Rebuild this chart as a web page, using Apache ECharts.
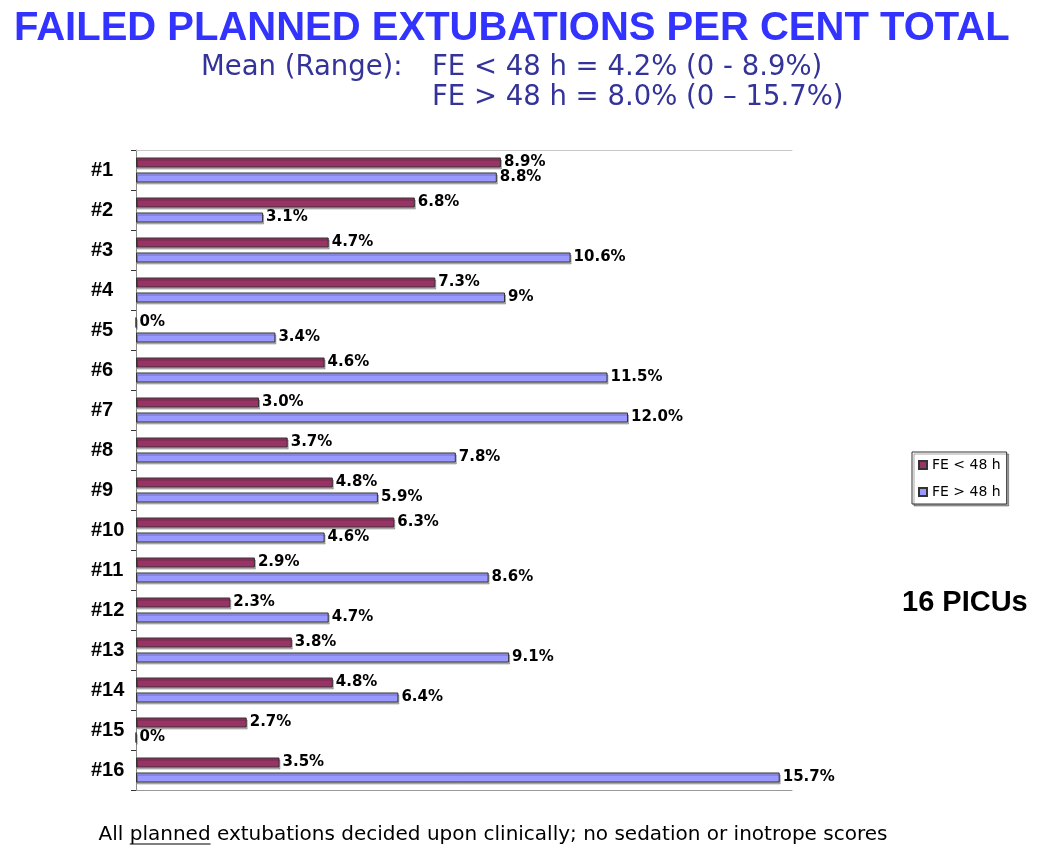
<!DOCTYPE html>
<html>
<head>
<meta charset="utf-8">
<script src="https://cdn.jsdelivr.net/npm/echarts@6/dist/echarts.min.js"></script>
<style>
html,body{margin:0;padding:0;background:#fff;}
#chart{width:1050px;height:866px;}
</style>
</head>
<body>
<div id="chart"></div>
<script>
const categories = ['#1','#2','#3','#4','#5','#6','#7','#8','#9','#10','#11','#12','#13','#14','#15','#16'];
const seriesNames = ['FE < 48 h', 'FE > 48 h'];
const feLess48 = [8.9, 6.8, 4.7, 7.3, 0, 4.6, 3.0, 3.7, 4.8, 6.3, 2.9, 2.3, 3.8, 4.8, 2.7, 3.5];
const feMore48 = [8.8, 3.1, 10.6, 9, 3.4, 11.5, 12.0, 7.8, 5.9, 4.6, 8.6, 4.7, 9.1, 6.4, 0, 15.7];
const labelsLess48 = ['8.9%','6.8%','4.7%','7.3%','0%','4.6%','3.0%','3.7%','4.8%','6.3%','2.9%','2.3%','3.8%','4.8%','2.7%','3.5%'];
const labelsMore48 = ['8.8%','3.1%','10.6%','9%','3.4%','11.5%','12.0%','7.8%','5.9%','4.6%','8.6%','4.7%','9.1%','6.4%','0%','15.7%'];
const titleText = 'FAILED PLANNED EXTUBATIONS PER CENT TOTAL';
const subtitleLead = 'Mean (Range):';
const subtitleLine1 = 'FE < 48 h = 4.2% (0 - 8.9%)';
const subtitleLine2 = 'FE > 48 h = 8.0% (0 \u2013 15.7%)';
const sideNote = '16 PICUs';
const footPre = 'All ';
const footUnder = 'planned';
const footPost = ' extubations decided upon clinically; no sedation or inotrope scores';

const chart = echarts.init(document.getElementById('chart'));

const footFont = '20px "DejaVu Sans"';
const mctx = document.createElement('canvas').getContext('2d');
mctx.font = footFont;
const wPre = mctx.measureText(footPre).width;
const wUnder = mctx.measureText(footUnder).width;
const wAll = mctx.measureText(footPre + footUnder + footPost).width;
const footCenter = 493, footY = 836;
const footLeft = footCenter - wAll / 2;

function barSeries(name, data, labels, color) {
  return {
    name: name,
    type: 'bar',
    data: data,
    barWidth: 10,
    barGap: '50%',
    itemStyle: {
      color: color,
      borderColor: '#333333',
      borderWidth: 1,
      shadowColor: 'rgba(0,0,0,0.25)',
      shadowOffsetX: 1,
      shadowOffsetY: 2,
      shadowBlur: 0
    },
    label: {
      show: true,
      position: 'right',
      distance: 3,
      formatter: p => labels[p.dataIndex],
      fontFamily: 'DejaVu Sans',
      fontWeight: 'bold',
      fontSize: 15,
      color: '#000'
    }
  };
}

chart.setOption({
  animation: false,
  backgroundColor: '#fff',
  title: [
    { text: titleText, left: 14, top: 9, padding: 0,
      textStyle: { fontFamily: 'Liberation Sans', fontWeight: 'bold', fontSize: 40, color: '#3333ff' } },
    { text: subtitleLead, left: 201, top: 54, padding: 0,
      textStyle: { fontFamily: 'DejaVu Sans', fontWeight: 'normal', fontSize: 27.5, color: '#333399' } },
    { text: subtitleLine1, left: 432, top: 54, padding: 0,
      textStyle: { fontFamily: 'DejaVu Sans', fontWeight: 'normal', fontSize: 27.5, color: '#333399' } },
    { text: subtitleLine2, left: 432, top: 84, padding: 0,
      textStyle: { fontFamily: 'DejaVu Sans', fontWeight: 'normal', fontSize: 27.5, color: '#333399' } },
    { text: sideNote, left: 902, top: 588, padding: 0,
      textStyle: { fontFamily: 'Liberation Sans', fontWeight: 'bold', fontSize: 29, color: '#000' } }
  ],
  legend: {
    data: seriesNames,
    orient: 'vertical',
    left: 912,
    top: 452,
    padding: [6, 6, 5, 6],
    itemGap: 13,
    itemWidth: 8,
    itemHeight: 8,
    icon: 'rect',
    backgroundColor: '#fff',
    borderColor: '#333',
    borderWidth: 1,
    shadowColor: 'rgba(0,0,0,0.35)',
    shadowOffsetX: 2,
    shadowOffsetY: 2,
    shadowBlur: 0,
    textStyle: { fontFamily: 'DejaVu Sans', fontSize: 14, color: '#000' }
  },
  grid: { left: 136, right: 258, top: 150, bottom: 76, containLabel: false },
  xAxis: [
    { type: 'value', min: 0, max: 16, position: 'bottom',
      axisLine: { show: true, lineStyle: { color: '#999', width: 1 } },
      axisTick: { show: false }, axisLabel: { show: false }, splitLine: { show: false } },
    { type: 'value', min: 0, max: 16, position: 'top',
      axisLine: { show: true, lineStyle: { color: '#c8c8c8', width: 1 } },
      axisTick: { show: false }, axisLabel: { show: false }, splitLine: { show: false } }
  ],
  yAxis: {
    type: 'category',
    data: categories,
    inverse: true,
    axisLine: { show: true, lineStyle: { color: '#888', width: 1 } },
    axisTick: { show: true, length: 5, lineStyle: { color: '#333' } },
    axisLabel: { fontFamily: 'Liberation Sans', fontWeight: 'bold', fontSize: 20, color: '#000',
      align: 'left', margin: 45 }
  },
  series: [
    barSeries(seriesNames[0], feLess48, labelsLess48, '#993366'),
    barSeries(seriesNames[1], feMore48, labelsMore48, '#9999ff')
  ],
  graphic: [
    { type: 'text', left: footLeft, top: footY - 11,
      style: { text: footPre + footUnder + footPost, font: footFont, fill: '#000' } },
    { type: 'line', shape: { x1: footLeft + wPre, y1: footY + 8, x2: footLeft + wPre + wUnder, y2: footY + 8 },
      style: { stroke: '#000', lineWidth: 1 } }
  ]
});
</script>
</body>
</html>
